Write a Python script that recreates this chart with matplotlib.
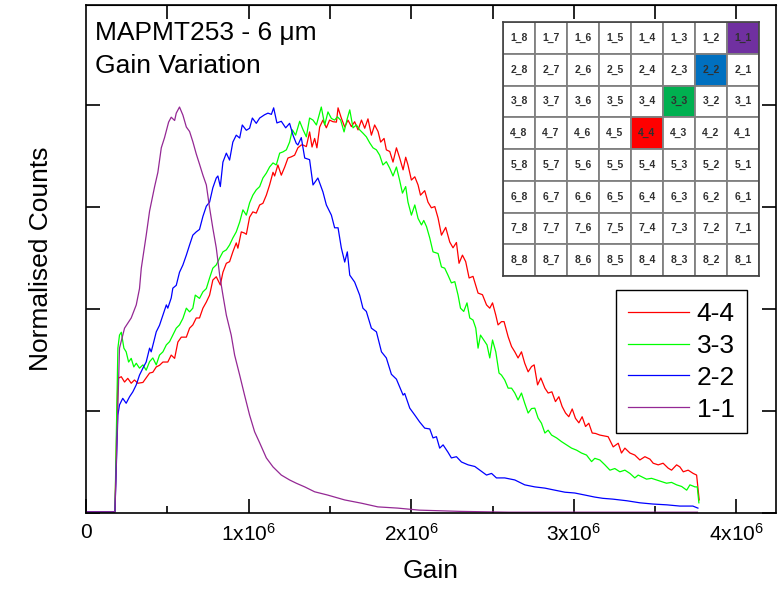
import numpy as np
import matplotlib
matplotlib.use("Agg")
import matplotlib.pyplot as plt
from matplotlib.patches import Rectangle

plt.rcParams['font.family'] = ['Liberation Sans', 'DejaVu Sans']

# (gain in units of 1e6, normalised counts)
pts_4_4 = [
    (0.0, 0.003), (0.178, 0.003), (0.196, 0.330), (0.217, 0.334), (0.237, 0.321), (0.257, 0.330),
    (0.278, 0.318), (0.298, 0.326), (0.319, 0.318), (0.350, 0.320), (0.370, 0.331), (0.391, 0.343),
    (0.411, 0.345), (0.432, 0.358), (0.452, 0.362), (0.473, 0.370), (0.503, 0.370), (0.524, 0.387),
    (0.545, 0.379), (0.565, 0.419), (0.586, 0.431), (0.617, 0.431), (0.637, 0.453), (0.657, 0.461),
    (0.678, 0.478), (0.698, 0.478), (0.719, 0.502), (0.740, 0.517), (0.760, 0.534), (0.780, 0.571),
    (0.801, 0.579), (0.826, 0.559), (0.842, 0.590), (0.863, 0.612), (0.883, 0.616), (0.903, 0.640),
    (0.924, 0.662), (0.934, 0.649), (0.955, 0.689), (0.975, 0.686), (0.986, 0.683), (1.006, 0.725),
    (1.026, 0.738), (1.047, 0.735), (1.068, 0.755), (1.088, 0.759), (1.109, 0.779), (1.129, 0.804),
    (1.150, 0.835), (1.160, 0.826), (1.180, 0.853), (1.201, 0.828), (1.222, 0.848), (1.242, 0.870),
    (1.263, 0.873), (1.283, 0.877), (1.303, 0.895), (1.324, 0.902), (1.334, 0.902), (1.355, 0.898),
    (1.375, 0.934), (1.390, 0.897), (1.406, 0.918), (1.420, 0.895), (1.437, 0.946), (1.457, 0.963),
    (1.478, 0.944), (1.498, 0.963), (1.519, 0.959), (1.540, 0.958), (1.550, 0.993), (1.570, 0.968),
    (1.591, 0.946), (1.611, 0.963), (1.632, 0.947), (1.652, 0.959), (1.673, 0.939), (1.694, 0.963),
    (1.714, 0.943), (1.734, 0.966), (1.755, 0.926), (1.775, 0.951), (1.796, 0.935), (1.812, 0.909),
    (1.833, 0.918), (1.847, 0.890), (1.868, 0.886), (1.888, 0.860), (1.909, 0.895), (1.929, 0.870),
    (1.950, 0.841), (1.966, 0.872), (1.980, 0.853), (2.001, 0.816), (2.022, 0.824), (2.042, 0.804),
    (2.057, 0.779), (2.083, 0.790), (2.103, 0.762), (2.124, 0.748), (2.145, 0.751), (2.165, 0.723),
    (2.186, 0.681), (2.212, 0.700), (2.237, 0.664), (2.257, 0.650), (2.278, 0.663), (2.294, 0.612),
    (2.315, 0.632), (2.335, 0.616), (2.356, 0.576), (2.380, 0.580), (2.411, 0.539), (2.438, 0.535),
    (2.463, 0.510), (2.483, 0.502), (2.500, 0.515), (2.520, 0.485), (2.534, 0.461), (2.555, 0.469),
    (2.571, 0.469), (2.596, 0.432), (2.617, 0.408), (2.637, 0.395), (2.657, 0.380), (2.678, 0.395),
    (2.698, 0.367), (2.719, 0.346), (2.740, 0.359), (2.756, 0.363), (2.777, 0.314), (2.797, 0.331),
    (2.822, 0.306), (2.842, 0.294), (2.865, 0.297), (2.887, 0.273), (2.908, 0.285), (2.928, 0.261),
    (2.949, 0.245), (2.969, 0.236), (2.990, 0.255), (3.010, 0.232), (3.031, 0.221), (3.051, 0.236),
    (3.072, 0.212), (3.092, 0.220), (3.113, 0.196), (3.133, 0.195), (3.160, 0.191), (3.211, 0.187),
    (3.242, 0.162), (3.273, 0.171), (3.293, 0.147), (3.314, 0.159), (3.345, 0.147), (3.375, 0.142),
    (3.406, 0.130), (3.437, 0.138), (3.468, 0.132), (3.488, 0.122), (3.519, 0.118), (3.549, 0.122),
    (3.580, 0.110), (3.601, 0.105), (3.632, 0.118), (3.652, 0.113), (3.673, 0.101), (3.703, 0.105),
    (3.734, 0.097), (3.755, 0.093), (3.771, 0.032),
]

pts_3_3 = [
    (0.0, 0.003), (0.178, 0.003), (0.196, 0.404), (0.206, 0.436), (0.217, 0.443), (0.233, 0.404),
    (0.247, 0.395), (0.262, 0.370), (0.278, 0.379), (0.294, 0.358), (0.309, 0.367), (0.329, 0.355),
    (0.350, 0.363), (0.370, 0.350), (0.391, 0.371), (0.411, 0.380), (0.432, 0.363), (0.452, 0.387),
    (0.473, 0.395), (0.494, 0.412), (0.514, 0.420), (0.534, 0.436), (0.555, 0.453), (0.575, 0.461),
    (0.596, 0.477), (0.617, 0.502), (0.637, 0.493), (0.657, 0.502), (0.672, 0.534), (0.698, 0.526),
    (0.719, 0.542), (0.740, 0.550), (0.760, 0.576), (0.780, 0.600), (0.801, 0.608), (0.822, 0.625),
    (0.842, 0.640), (0.863, 0.645), (0.883, 0.657), (0.903, 0.674), (0.924, 0.689), (0.945, 0.713),
    (0.965, 0.743), (0.986, 0.730), (1.006, 0.760), (1.026, 0.779), (1.047, 0.792), (1.068, 0.800),
    (1.088, 0.821), (1.109, 0.833), (1.129, 0.848), (1.150, 0.858), (1.170, 0.853), (1.191, 0.882),
    (1.211, 0.885), (1.232, 0.890), (1.252, 0.909), (1.269, 0.939), (1.289, 0.926), (1.314, 0.960),
    (1.334, 0.940), (1.355, 0.922), (1.375, 0.968), (1.396, 0.963), (1.417, 0.951), (1.447, 0.995),
    (1.468, 0.951), (1.488, 0.983), (1.509, 0.967), (1.529, 0.963), (1.546, 0.971), (1.566, 0.963),
    (1.587, 0.934), (1.607, 0.967), (1.622, 0.988), (1.642, 0.944), (1.663, 0.951), (1.683, 0.939),
    (1.703, 0.931), (1.724, 0.922), (1.745, 0.907), (1.765, 0.895), (1.786, 0.890), (1.806, 0.877),
    (1.826, 0.853), (1.847, 0.861), (1.868, 0.845), (1.888, 0.826), (1.909, 0.848), (1.929, 0.815),
    (1.946, 0.784), (1.966, 0.800), (1.980, 0.762), (2.001, 0.730), (2.022, 0.755), (2.042, 0.722),
    (2.063, 0.706), (2.077, 0.717), (2.094, 0.702), (2.114, 0.674), (2.134, 0.640), (2.165, 0.636),
    (2.186, 0.603), (2.206, 0.600), (2.226, 0.583), (2.247, 0.564), (2.268, 0.567), (2.288, 0.534),
    (2.303, 0.502), (2.323, 0.494), (2.343, 0.515), (2.360, 0.478), (2.380, 0.473), (2.397, 0.453),
    (2.411, 0.404), (2.426, 0.436), (2.446, 0.424), (2.466, 0.412), (2.483, 0.380), (2.500, 0.424),
    (2.520, 0.395), (2.540, 0.343), (2.555, 0.338), (2.575, 0.326), (2.596, 0.306), (2.617, 0.306),
    (2.637, 0.294), (2.657, 0.277), (2.678, 0.294), (2.698, 0.269), (2.719, 0.245), (2.740, 0.256),
    (2.760, 0.257), (2.780, 0.233), (2.801, 0.220), (2.822, 0.196), (2.842, 0.203), (2.863, 0.191),
    (2.894, 0.184), (2.924, 0.175), (2.955, 0.167), (2.986, 0.159), (3.017, 0.154), (3.047, 0.147),
    (3.078, 0.142), (3.109, 0.126), (3.129, 0.134), (3.160, 0.130), (3.191, 0.118), (3.222, 0.105),
    (3.252, 0.109), (3.283, 0.101), (3.314, 0.105), (3.345, 0.097), (3.375, 0.086), (3.396, 0.093),
    (3.417, 0.089), (3.447, 0.083), (3.478, 0.085), (3.509, 0.081), (3.540, 0.077), (3.570, 0.073),
    (3.601, 0.075), (3.632, 0.069), (3.663, 0.065), (3.694, 0.056), (3.714, 0.069), (3.745, 0.064),
    (3.759, 0.064), (3.769, 0.025),
]

pts_2_2 = [
    (0.0, 0.003), (0.178, 0.003), (0.196, 0.240), (0.206, 0.265), (0.226, 0.281), (0.247, 0.269),
    (0.268, 0.285), (0.288, 0.297), (0.309, 0.314), (0.329, 0.338), (0.350, 0.355), (0.370, 0.370),
    (0.391, 0.404), (0.401, 0.395), (0.417, 0.420), (0.432, 0.444), (0.452, 0.460), (0.473, 0.485),
    (0.494, 0.510), (0.503, 0.502), (0.524, 0.527), (0.534, 0.551), (0.555, 0.558), (0.575, 0.590),
    (0.596, 0.608), (0.617, 0.632), (0.637, 0.657), (0.657, 0.681), (0.678, 0.689), (0.698, 0.695),
    (0.719, 0.727), (0.740, 0.752), (0.760, 0.762), (0.780, 0.797), (0.801, 0.821), (0.811, 0.826),
    (0.826, 0.800), (0.842, 0.860), (0.863, 0.882), (0.883, 0.865), (0.903, 0.909), (0.924, 0.926),
    (0.945, 0.919), (0.961, 0.951), (0.986, 0.938), (1.006, 0.943), (1.023, 0.968), (1.047, 0.955),
    (1.068, 0.968), (1.098, 0.976), (1.119, 0.980), (1.140, 0.977), (1.154, 0.993), (1.174, 0.956),
    (1.201, 0.960), (1.228, 0.944), (1.252, 0.955), (1.273, 0.926), (1.293, 0.906), (1.303, 0.902),
    (1.324, 0.920), (1.345, 0.870), (1.375, 0.866), (1.396, 0.804), (1.426, 0.821), (1.457, 0.787),
    (1.478, 0.755), (1.509, 0.730), (1.529, 0.699), (1.550, 0.699), (1.570, 0.650), (1.591, 0.615),
    (1.607, 0.640), (1.622, 0.583), (1.652, 0.566), (1.683, 0.534), (1.703, 0.502), (1.724, 0.494),
    (1.755, 0.453), (1.786, 0.444), (1.817, 0.395), (1.847, 0.380), (1.878, 0.340), (1.909, 0.328),
    (1.950, 0.289), (1.960, 0.293), (1.991, 0.257), (2.022, 0.240), (2.052, 0.223), (2.083, 0.208),
    (2.114, 0.206), (2.134, 0.184), (2.155, 0.187), (2.175, 0.159), (2.196, 0.167), (2.226, 0.149),
    (2.247, 0.135), (2.278, 0.138), (2.309, 0.125), (2.350, 0.118), (2.391, 0.114), (2.422, 0.105),
    (2.463, 0.093), (2.494, 0.097), (2.524, 0.086), (2.575, 0.086), (2.637, 0.081), (2.698, 0.069),
    (2.760, 0.064), (2.822, 0.061), (2.883, 0.056), (2.945, 0.051), (3.006, 0.049), (3.068, 0.044),
    (3.129, 0.039), (3.178, 0.036), (3.240, 0.034), (3.326, 0.030), (3.406, 0.025), (3.486, 0.022),
    (3.572, 0.020), (3.652, 0.017), (3.732, 0.017), (3.763, 0.012),
]

pts_1_1 = [
    (0.0, 0.003), (0.178, 0.003), (0.206, 0.404), (0.237, 0.453), (0.278, 0.478), (0.309, 0.510),
    (0.329, 0.550), (0.340, 0.600), (0.370, 0.680), (0.391, 0.740), (0.422, 0.800), (0.442, 0.835),
    (0.463, 0.895), (0.483, 0.920), (0.508, 0.958), (0.524, 0.970), (0.545, 0.962), (0.555, 0.980),
    (0.575, 0.995), (0.596, 0.975), (0.617, 0.946), (0.637, 0.935), (0.657, 0.910), (0.678, 0.880),
    (0.698, 0.855), (0.719, 0.828), (0.740, 0.804), (0.760, 0.748), (0.780, 0.698), (0.801, 0.650),
    (0.822, 0.583), (0.842, 0.534), (0.863, 0.485), (0.893, 0.436), (0.914, 0.387), (0.945, 0.338),
    (0.975, 0.289), (1.006, 0.240), (1.037, 0.199), (1.068, 0.172), (1.109, 0.135), (1.150, 0.113),
    (1.201, 0.093), (1.252, 0.081), (1.293, 0.073), (1.345, 0.064), (1.406, 0.052), (1.486, 0.044),
    (1.591, 0.032), (1.694, 0.024), (1.795, 0.015), (1.917, 0.012), (2.050, 0.007), (2.300, 0.004),
    (2.600, 0.002), (3.760, 0.002),
]

series_labels = ['4-4', '3-3', '2-2', '1-1']
series_colors = ['#FF0000', '#00FF00', '#0000FF', '#942894']

xtick_values = [0, 1e6, 2e6, 3e6, 4e6]
xtick_labels = ['0', r'$\mathregular{1x10^{6}}$', r'$\mathregular{2x10^{6}}$',
                r'$\mathregular{3x10^{6}}$', r'$\mathregular{4x10^{6}}$']

# pixel map: rows 1..8 top to bottom, columns 8..1 left to right
map_rows = [1, 2, 3, 4, 5, 6, 7, 8]
map_cols = [8, 7, 6, 5, 4, 3, 2, 1]
highlight = {'1_1': '#7030A0', '2_2': '#0070C0', '3_3': '#00B050', '4_4': '#FF0000'}

fig = plt.figure(figsize=(7.79, 5.90), dpi=100)
ax = fig.add_axes([0.1104, 0.1305, 0.8857, 0.861])

for pts, lab, col in zip([pts_4_4, pts_3_3, pts_2_2, pts_1_1], series_labels, series_colors):
    gx, gy = zip(*pts)
    ax.plot(np.array(gx) * 1e6, gy, color=col, lw=0.9, label=lab)

ax.set_xlim(0, 4.243e6)
ax.set_ylim(0, 1.245)
ax.set_xticks(xtick_values)
ax.set_xticklabels(xtick_labels)
ax.set_xticks(np.array([0.5, 1.5, 2.5, 3.5]) * 1e6, minor=True)
ax.set_yticks([0, 0.25, 0.5, 0.75, 1.0])
ax.set_yticklabels([])
ax.tick_params(axis='x', which='major', direction='in', length=10, width=1.2,
               labelsize=15, pad=7, top=False)
ax.tick_params(axis='x', which='minor', direction='in', length=5, width=1.2, top=False)
ax.tick_params(axis='y', which='major', direction='in', length=10, width=1.2,
               right=True)
for s in ax.spines.values():
    s.set_linewidth(1.2)

top = ax.secondary_xaxis('top')
top.set_xticks(np.array([0.5, 1.0, 1.5, 2.0, 2.5, 3.0, 3.5, 4.0]) * 1e6)
top.set_xticklabels([])
top.tick_params(direction='in', length=10, width=1.2)

ax.set_xlabel('Gain', fontsize=19, labelpad=10)
ax.set_ylabel('Normalised Counts', fontsize=19, labelpad=20)

fig.text(0.122, 0.932, 'MAPMT253 - 6 \u03bcm', fontsize=19, va='baseline')
fig.text(0.122, 0.876, 'Gain Variation', fontsize=19, va='baseline')

leg = ax.legend(loc='upper left', bbox_to_anchor=(0.7908, 0.5085), bbox_transform=fig.transFigure,
                borderaxespad=0, fontsize=19, handlelength=2.3, handletextpad=0.3,
                labelspacing=0.3, borderpad=0.45, fancybox=False, framealpha=1)
leg.get_frame().set_edgecolor('black')
leg.get_frame().set_linewidth(1.0)

# inset pixel map
ins = fig.add_axes([0.6457, 0.5322, 0.3286, 0.4305])
ins.set_xlim(0, 8)
ins.set_ylim(8, 0)
ins.set_xticks([])
ins.set_yticks([])
for s in ins.spines.values():
    s.set_color('#404040')
    s.set_linewidth(1.2)
for i, r in enumerate(map_rows):
    for j, c in enumerate(map_cols):
        name = f'{r}_{c}'
        ins.add_patch(Rectangle((j, i), 1, 1, facecolor=highlight.get(name, 'white'),
                                edgecolor='#808080', lw=1.3))
        ins.text(j + 0.5, i + 0.5, name, ha='center', va='center', fontsize=7.5,
                 fontweight='bold', color='#303030')

fig.savefig('out.png', dpi=100)
